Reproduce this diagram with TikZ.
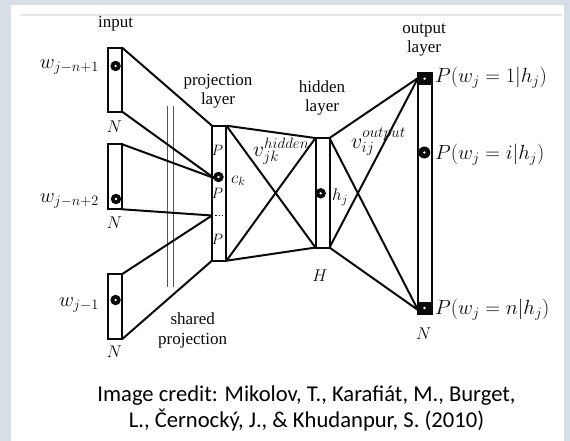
\RequirePackage{fix-cm}
\documentclass[tikz,border=0pt]{standalone}
\usepackage{fontspec}
\setmainfont{Liberation Serif}
\newfontfamily\capfont{Carlito}
\definecolor{bgblue}{HTML}{D6DEE6}
\definecolor{ruleg}{HTML}{E8E8E8}
\definecolor{ink}{HTML}{0A0A0A}
\definecolor{dblg}{HTML}{555555}
\tikzset{
  lbox/.style={draw=ink, line width=2pt, inner sep=0pt, outer sep=0pt, minimum width=14pt},
  conn/.style={draw=ink, line width=2pt},
  unit/.style={circle, fill=ink, minimum size=10.5pt, inner sep=0pt, outer sep=0pt,
    path picture={\fill[white] (path picture bounding box.center) circle (1.3pt);}},
  osq/.style={rectangle, fill=ink, minimum width=15pt, minimum height=12pt, inner sep=0pt, outer sep=0pt,
    path picture={\fill[white] (path picture bounding box.center) circle (1.3pt);}},
  txt/.style={font=\fontsize{17}{19.5}\selectfont, inner sep=0pt, align=center, text=ink},
  mth/.style={font=\fontsize{20.5}{22}\selectfont, inner sep=0pt, text=ink},
  mths/.style={font=\fontsize{17}{19}\selectfont, inner sep=0pt, text=ink},
  mthp/.style={font=\fontsize{15}{17}\selectfont, inner sep=0pt, text=ink},
}
\begin{document}
\begin{tikzpicture}[x=1pt, y=-1pt]
\useasboundingbox (0,0) rectangle (570,441);
\fill[bgblue] (0,0) rectangle (570,441);
\fill[white] (11,5) rectangle (564,441);
\draw[ruleg, line width=1.2pt] (20,15) -- (562,15);

% layer boxes
\node[lbox, minimum height=64pt] (in1) at (115.3,79.8) {};
\node[lbox, minimum height=65pt] (in2) at (115.3,176.8) {};
\node[lbox, minimum height=65pt] (in3) at (115.3,306.5) {};
\node[lbox, minimum width=14.5pt, minimum height=135pt] (proj) at (219.2,193.2) {};
\node[lbox, minimum height=109.5pt] (hid) at (322.5,192.8) {};
\node[lbox, minimum height=241pt] (out) at (424.5,193.3) {};

% named free ends
\coordinate (ckin) at (214,178);
\coordinate (pdots) at (212,215.5);
\coordinate (otop) at (418,78);
\coordinate (obot) at (418,310);
\coordinate (sa1) at (167,106);
\coordinate (sa2) at (167,287);
\coordinate (sb1) at (173.5,106);
\coordinate (sb2) at (173.5,287);

% shared projection double line
\draw[dblg, line width=0.9pt] (sa1) -- (sa2);
\draw[dblg, line width=0.9pt] (sb1) -- (sb2);

% input -> projection
\draw[conn] (in1.north east) -- (proj.north west);
\draw[conn] (in1.south east) -- (ckin);
\draw[conn] (in2.north east) -- (ckin);
\draw[conn] (in2.south east) -- (pdots);
\draw[conn] (in3.north east) -- (pdots);
\draw[conn] (in3.south east) -- (proj.south west);
\draw[ink, line width=1.2pt, dash pattern=on 1.2pt off 2.2pt] (pdots) -- (pdots -| proj.east);

% projection -> hidden
\draw[conn] (proj.north east) -- (hid.north west);
\draw[conn] (proj.north east) -- (hid.south west);
\draw[conn] (proj.south east) -- (hid.north west);
\draw[conn] (proj.south east) -- (hid.south west);

% hidden -> output
\draw[conn] (hid.north east) -- (otop);
\draw[conn] (hid.north east) -- (obot);
\draw[conn] (hid.south east) -- (otop);
\draw[conn] (hid.south east) -- (obot);

% units
\node[unit] (x1) at (115.6,66) {};
\node[unit] (x2) at (116,199) {};
\node[unit] (x3) at (115.6,300) {};
\node[unit] (ck) at (218.5,177) {};
\node[unit] (hj) at (320.7,193.3) {};
\node[osq] (o1) at (424.5,78.7) {};
\node[unit, minimum size=12pt] (oi) at (424.3,152.5) {};
\node[osq] (on) at (424.5,308) {};

% labels
\node[txt] (linput) at (115.6,24) {input};
\node[txt] (lproj) at (218,91) {projection\\layer};
\node[txt] (lhid) at (322,98) {hidden\\layer};
\node[txt] (lout) at (424,40) {output\\layer};
\node[txt] (lshared) at (192.7,330.3) {shared\\projection};

\node[mth, anchor=east] (lw1) at (99,67) {$w_{j-n+1}$};
\node[mth, anchor=east] (lw2) at (99,201) {$w_{j-n+2}$};
\node[mth, anchor=east] (lw3) at (99,305) {$w_{j-1}$};
\node[mths] (lN1) at (114.5,127) {$N$};
\node[mths] (lN2) at (114.5,223) {$N$};
\node[mths] (lN3) at (114.5,352) {$N$};

\node[mthp] (lP1) at (217.5,150) {$P$};
\node[mthp] (lP2) at (217.5,193) {$P$};
\node[mthp] (lP3) at (217.5,239.5) {$P$};
\node[mths, anchor=west] (lck) at (231,181) {$c_k$};
\node[mths, anchor=west] (lhj) at (332,197) {$h_j$};
\node[mths] (lH) at (320,276) {$H$};

\node[mth, font=\fontsize{21.5}{23}\selectfont, anchor=west] (lvh) at (253,151) {$v_{jk}^{hidden}$};
\node[mth, font=\fontsize{22}{23}\selectfont, anchor=west] (lvo) at (351,142) {$v_{ij}^{output}$};

\node[mth, anchor=west] (lp1) at (435,78) {$P(w_j=1|h_j)$};
\node[mth, anchor=west] (lpi) at (435,154.5) {$P(w_j=i|h_j)$};
\node[mth, anchor=west] (lpn) at (435,309.5) {$P(w_j=n|h_j)$};
\node[mths] (lN4) at (423.6,333.5) {$N$};

% caption
\node[font=\capfont\fontsize{22.6}{26.7}\selectfont, align=center, inner sep=0pt, text=black] (cap) at (306.5,408.5)
  {Image credit: Mikolov, T., Karafiát, M., Burget,\\L., Černocký, J., \& Khudanpur, S. (2010)};
\end{tikzpicture}
\end{document}
